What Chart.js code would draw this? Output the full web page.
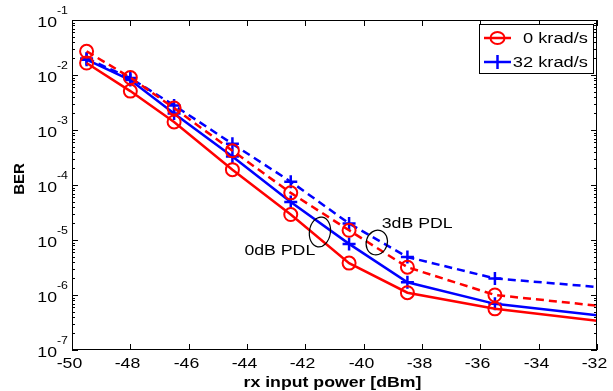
<!DOCTYPE html>
<html>
<head>
<meta charset="utf-8">
<script src="https://cdn.jsdelivr.net/npm/chart.js@4"></script>
<style>
  body { margin: 0; background: #fff; }
  #c { display: block; }
</style>
</head>
<body>
<canvas id="c" width="613" height="391"></canvas>
<script>
// --- Data ---
const powerDbm = [-49.5, -48, -46.5, -44.5, -42.5, -40.5, -38.5, -35.5, -32];
const ber0krad0dB = [1.65e-2, 5.1e-3, 1.4e-3, 1.9e-4, 2.9e-5, 3.8e-6, 1.1e-6, 5.6e-7, 3.4e-7];
const ber0krad3dB = [2.7e-2, 9.0e-3, 2.5e-3, 4.2e-4, 7.2e-5, 1.5e-5, 3.2e-6, 1.0e-6, 6.4e-7];
const ber32krad0dB = [1.9e-2, 8.1e-3, 2.0e-3, 3.3e-4, 4.9e-5, 8.5e-6, 1.7e-6, 6.9e-7, 4.3e-7];
const ber32krad3dB = [2.0e-2, 8.8e-3, 2.8e-3, 5.6e-4, 1.15e-4, 2.0e-5, 4.9e-6, 2.0e-6, 1.4e-6];
const xTickValues = [-50, -48, -46, -44, -42, -40, -38, -36, -34, -32];
const yExponents = [-7, -6, -5, -4, -3, -2, -1];
const legendLabels = ['0 krad/s', '32 krad/s'];

const RED = '#ff0000', BLUE = '#0000ff';
const FONT = 'Arial, "Liberation Sans", sans-serif';
const STRETCH = 1.18; // the reference text is a bit wide
// last sample sits on the axis edge, no marker drawn there
const markerSizes = powerDbm.map((_, i) => i === powerDbm.length - 1 ? 0 : 6.5);

function series(label, values, color, dashed, style) {
    return {
        label,
        data: powerDbm.map((p, i) => ({ x: p, y: values[i] })),
        borderColor: color,
        backgroundColor: 'rgba(0,0,0,0)',
        borderWidth: 2.5,
        borderDash: dashed ? [8, 5] : [],
        pointStyle: style,
        pointRadius: markerSizes,
        pointBorderWidth: style === 'cross' ? 2.5 : 2,
        pointBorderColor: color,
        pointBackgroundColor: 'rgba(0,0,0,0)',
        tension: 0
    };
}

function line(ctx, x1, y1, x2, y2) {
    ctx.beginPath();
    ctx.moveTo(x1, y1);
    ctx.lineTo(x2, y2);
    ctx.stroke();
}

function text(ctx, s, x, y, align, font) {
    ctx.save();
    ctx.font = font;
    const w = ctx.measureText(s).width * STRETCH;
    const left = align === 'right' ? x - w : align === 'center' ? x - w / 2 : x;
    ctx.translate(left, y);
    ctx.scale(STRETCH, 1);
    ctx.fillStyle = '#000';
    ctx.textAlign = 'left';
    ctx.textBaseline = 'middle';
    ctx.fillText(s, 0, 0);
    ctx.restore();
    return w;
}

// --- Axes box, inward ticks, labels, notes and legend ---
const decoPlugin = {
    id: 'deco',
    afterDatasetsDraw(chart) {
        const { ctx, chartArea: a, scales: { x, y } } = chart;
        ctx.save();
        ctx.strokeStyle = '#000';
        ctx.lineWidth = 1;
        ctx.setLineDash([]);
        ctx.strokeRect(a.left + 0.5, a.top + 0.5, a.right - a.left - 1, a.bottom - a.top - 1);

        xTickValues.forEach(v => {
            const px = Math.round(x.getPixelForValue(v)) + 0.5;
            line(ctx, px, a.bottom, px, a.bottom - 6);
            line(ctx, px, a.top, px, a.top + 6);
            text(ctx, String(v), px - 3, a.bottom + 14, 'center', '15px ' + FONT);
        });
        text(ctx, 'rx input power [dBm]', (a.left + a.right) / 2 - 2, a.bottom + 33, 'center', 'bold 15px ' + FONT);

        yExponents.forEach(e => {
            const py = Math.round(y.getPixelForValue(Math.pow(10, e))) + 0.5;
            line(ctx, a.left, py, a.left + 6, py);
            line(ctx, a.right, py, a.right - 6, py);
            if (e < -1) {
                for (let m = 2; m <= 9; m++) {
                    const pm = Math.round(y.getPixelForValue(m * Math.pow(10, e))) + 0.5;
                    line(ctx, a.left, pm, a.left + 3, pm);
                    line(ctx, a.right, pm, a.right - 3, pm);
                }
            }
            const supW = text(ctx, String(e), a.left - 4, py - 9, 'right', '10.5px ' + FONT);
            text(ctx, '10', a.left - 4 - supW, py + 2, 'right', '15px ' + FONT);
        });

        // BER title
        ctx.save();
        ctx.translate(20, (a.top + a.bottom) / 2 - 6);
        ctx.rotate(-Math.PI / 2);
        ctx.font = 'bold 15px ' + FONT;
        ctx.fillStyle = '#000';
        ctx.textAlign = 'center';
        ctx.textBaseline = 'middle';
        ctx.fillText('BER', 0, 0);
        ctx.restore();

        // PDL notes
        ctx.lineWidth = 1.2;
        ctx.beginPath();
        ctx.ellipse(x.getPixelForValue(-41.5), y.getPixelForValue(1.4e-5), 10.5, 15, 0.15, 0, Math.PI * 2);
        ctx.stroke();
        ctx.beginPath();
        ctx.ellipse(x.getPixelForValue(-39.55), y.getPixelForValue(9.0e-6), 10.5, 12.5, 0.3, 0, Math.PI * 2);
        ctx.stroke();
        text(ctx, '0dB PDL', x.getPixelForValue(-41.66), y.getPixelForValue(6.4e-6), 'right', '15px ' + FONT);
        text(ctx, '3dB PDL', x.getPixelForValue(-39.38), y.getPixelForValue(1.95e-5), 'left', '15px ' + FONT);

        // legend
        const lx = a.right - 118, ly = a.top + 4, lw = 114, lh = 49;
        ctx.fillStyle = '#fff';
        ctx.fillRect(lx, ly, lw, lh);
        ctx.strokeStyle = '#000';
        ctx.lineWidth = 1;
        ctx.strokeRect(lx + 0.5, ly + 0.5, lw, lh);
        const rows = [
            { label: legendLabels[0], color: RED, style: 'circle' },
            { label: legendLabels[1], color: BLUE, style: 'cross' }
        ];
        rows.forEach((r, i) => {
            const ry = ly + 14 + i * 24;
            ctx.strokeStyle = r.color;
            ctx.lineWidth = 2.5;
            line(ctx, lx + 5, ry, lx + 32, ry);
            if (r.style === 'circle') {
                ctx.lineWidth = 2;
                ctx.beginPath();
                ctx.ellipse(lx + 18.5, ry, 7, 6, 0, 0, Math.PI * 2);
                ctx.stroke();
            } else {
                line(ctx, lx + 18.5, ry - 7, lx + 18.5, ry + 7);
            }
            text(ctx, r.label, lx + lw - 5, ry + 1, 'right', '15.5px ' + FONT);
        });
        ctx.restore();
    }
};

new Chart(document.getElementById('c').getContext('2d'), {
    type: 'line',
    data: {
        datasets: [
            series('0 krad/s 0dB', ber0krad0dB, RED, false, 'circle'),
            series('0 krad/s 3dB', ber0krad3dB, RED, true, 'circle'),
            series('32 krad/s 0dB', ber32krad0dB, BLUE, false, 'cross'),
            series('32 krad/s 3dB', ber32krad3dB, BLUE, true, 'cross')
        ]
    },
    options: {
        responsive: false,
        animation: false,
        devicePixelRatio: 1,
        layout: { padding: { top: 20, right: 16, left: 0, bottom: 0 } },
        plugins: { legend: { display: false }, tooltip: { enabled: false } },
        scales: {
            x: {
                type: 'linear',
                min: -50,
                max: -32,
                grid: { display: false },
                border: { display: false },
                ticks: { display: false },
                afterFit: s => { s.height = 41; }
            },
            y: {
                type: 'logarithmic',
                min: 1e-7,
                max: 1e-1,
                grid: { display: false },
                border: { display: false },
                ticks: { display: false },
                afterFit: s => { s.width = 72; }
            }
        }
    },
    plugins: [decoPlugin]
});
</script>
</body>
</html>
